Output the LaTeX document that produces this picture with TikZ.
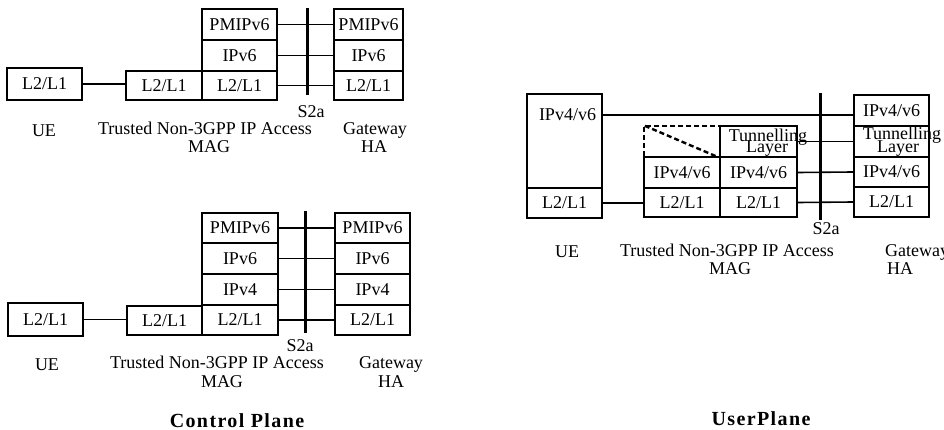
\documentclass[tikz,border=0pt]{standalone}
\usepackage{fontspec}
\setmainfont{Liberation Serif}
\newfontfamily\titlefam[LetterSpace=7]{Liberation Serif}
\newcommand{\fs}{\fontsize{18}{18}\selectfont}
\newcommand{\tfs}{\titlefam\bfseries\fontsize{20}{20}\selectfont}
\begin{document}
\begin{tikzpicture}[x=1pt,y=-1pt,
  cell/.style={draw,line width=1.7pt,inner sep=0pt,font=\fs},
  lbl/.style={inner sep=0pt,font=\fs,anchor=base},
  title/.style={inner sep=0pt,font=\tfs,anchor=base},
  conn/.style={line width=1.6pt},
  s2a/.style={line width=3pt},
  dbox/.style={draw,line width=2.4pt,dash pattern=on 5pt off 3pt}]
\useasboundingbox (0,0) rectangle (944,430);

% ---------------- Control plane, top ----------------
\node[cell,minimum width=75pt,minimum height=32pt] (ueA) at (44.5,84) {L2/L1};
\node[cell,minimum width=76pt,minimum height=29pt] (magAl) at (164,85.5) {L2/L1};
\node[cell,minimum width=75pt,minimum height=31pt] (magA1) at (239.5,24.5) {PMIPv6};
\node[cell,minimum width=75pt,minimum height=31pt] (magA2) at (239.5,55.5) {IPv6};
\node[cell,minimum width=75pt,minimum height=29pt] (magA3) at (239.5,85.5) {L2/L1};
\node[cell,minimum width=69pt,minimum height=31pt] (haA1) at (368.5,24.5) {PMIPv6};
\node[cell,minimum width=69pt,minimum height=31pt] (haA2) at (368.5,55.5) {IPv6};
\node[cell,minimum width=69pt,minimum height=29pt] (haA3) at (368.5,85.5) {L2/L1};
\coordinate (sAt) at (307,8);
\coordinate (sAb) at (307,95);
\draw[conn] (ueA.east) -- (ueA.east -| magAl.west);
\draw[conn] (magA1.east) -- (haA1.west);
\draw[conn] (magA2.east) -- (haA2.west);
\draw[conn] (magA3.east) -- (haA3.west);
\draw[s2a] (sAt) -- (sAb);
\node[lbl] (sAl) at (311,118) {S2a};
\node[lbl] (ueAl) at (44,137) {UE};
\node[lbl] (trA) at (205,135) {Trusted Non-3GPP IP Access};
\node[lbl] (magAlbl) at (209,153) {MAG};
\node[lbl] (gwA) at (375,135) {Gateway};
\node[lbl] (haAl) at (374,153) {HA};

% ---------------- Control plane, bottom ----------------
\node[cell,minimum width=75pt,minimum height=33pt] (ueB) at (45.5,319.5) {L2/L1};
\node[cell,minimum width=75pt,minimum height=29pt] (magBl) at (164.5,320.5) {L2/L1};
\node[cell,minimum width=76pt,minimum height=30pt] (magB1) at (240,228) {PMIPv6};
\node[cell,minimum width=76pt,minimum height=31pt] (magB2) at (240,258.5) {IPv6};
\node[cell,minimum width=76pt,minimum height=31pt] (magB3) at (240,289.5) {IPv4};
\node[cell,minimum width=76pt,minimum height=30pt] (magB4) at (240,320) {L2/L1};
\node[cell,minimum width=75pt,minimum height=30pt] (haB1) at (372.5,228) {PMIPv6};
\node[cell,minimum width=75pt,minimum height=31pt] (haB2) at (372.5,258.5) {IPv6};
\node[cell,minimum width=75pt,minimum height=31pt] (haB3) at (372.5,289.5) {IPv4};
\node[cell,minimum width=75pt,minimum height=30pt] (haB4) at (372.5,320) {L2/L1};
\coordinate (sBt) at (305,211);
\coordinate (sBb) at (305,333);
\draw[conn] (ueB.east) -- (ueB.east -| magBl.west);
\draw[conn] (magB1.east) -- (haB1.west);
\draw[conn] (magB2.east) -- (haB2.west);
\draw[conn] (magB3.east) -- (haB3.west);
\draw[conn] (magB4.east) -- (haB4.west);
\draw[s2a] (sBt) -- (sBb);
\node[lbl] (sBl) at (300,351) {S2a};
\node[lbl] (ueBl) at (47,370) {UE};
\node[lbl] (trB) at (217,368) {Trusted Non-3GPP IP Access};
\node[lbl] (magBlbl) at (222,387) {MAG};
\node[lbl] (gwB) at (391,368) {Gateway};
\node[lbl] (haBl) at (391,387) {HA};
\node[title] (cp) at (237,427) {Control Plane};

% ---------------- User plane ----------------
\node[cell,minimum width=75pt,minimum height=94pt] (ueC) at (564.5,141) {};
\node[cell,minimum width=75pt,minimum height=30pt] (ueC2) at (564.5,203) {L2/L1};
\node[lbl,anchor=center] (ueCip) at (567.5,115) {IPv4/v6};
\node[dbox,minimum width=76pt,minimum height=31pt,inner sep=0pt] (dash) at (682,141.5) {};
\draw[line width=2.4pt,dash pattern=on 5pt off 3pt] ([shift={(2,1)}]dash.north west) -- ([shift={(-3,-1)}]dash.south east);
\node[cell,minimum width=77pt,minimum height=31pt] (magC1) at (758.5,141.5) {};
\node[lbl] (magCt1) at (768,142) {Tunnelling};
\node[lbl] (magCt2) at (767,153) {Layer};
\node[cell,minimum width=76pt,minimum height=31pt] (magC2l) at (682,172.5) {IPv4/v6};
\node[cell,minimum width=77pt,minimum height=31pt] (magC2) at (758.5,172.5) {IPv4/v6};
\node[cell,minimum width=76pt,minimum height=29pt] (magC3l) at (682,202.5) {L2/L1};
\node[cell,minimum width=77pt,minimum height=29pt] (magC3) at (758.5,202.5) {L2/L1};
\node[cell,minimum width=75pt,minimum height=31pt] (haC1) at (891.5,110.5) {IPv4/v6};
\node[cell,minimum width=75pt,minimum height=31pt] (haC2) at (891.5,141.5) {};
\node[lbl] (haCt1) at (902,140) {Tunnelling};
\node[lbl] (haCt2) at (898,153) {Layer};
\node[cell,minimum width=75pt,minimum height=30pt] (haC3) at (891.5,172) {IPv4/v6};
\node[cell,minimum width=75pt,minimum height=30pt] (haC4) at (891.5,202) {L2/L1};
\coordinate (sCt) at (820,93);
\coordinate (sCb) at (820,220);
\draw[conn] (ueCip -| ueC.east) -- (ueCip -| haC1.west);
\draw[conn] (ueC2.east) -- (ueC2.east -| magC3l.west);
\draw[conn] (magC1.east) -- (haC2.west);
\draw[conn] (magC2.east) -- (haC3.west);
\draw[conn] (magC3.east) -- (haC4.west);
\draw[s2a] (sCt) -- (sCb);
\node[lbl] (sCl) at (826,235) {S2a};
\node[lbl] (ueCl) at (567,257) {UE};
\node[lbl] (trC) at (727,256) {Trusted Non-3GPP IP Access};
\node[lbl] (magClbl) at (730,274) {MAG};
\node[lbl] (gwC) at (917,256) {Gateway};
\node[lbl] (haCl) at (900,274) {HA};
\node[title] (up) at (761,425) {UserPlane};
\end{tikzpicture}
\end{document}
